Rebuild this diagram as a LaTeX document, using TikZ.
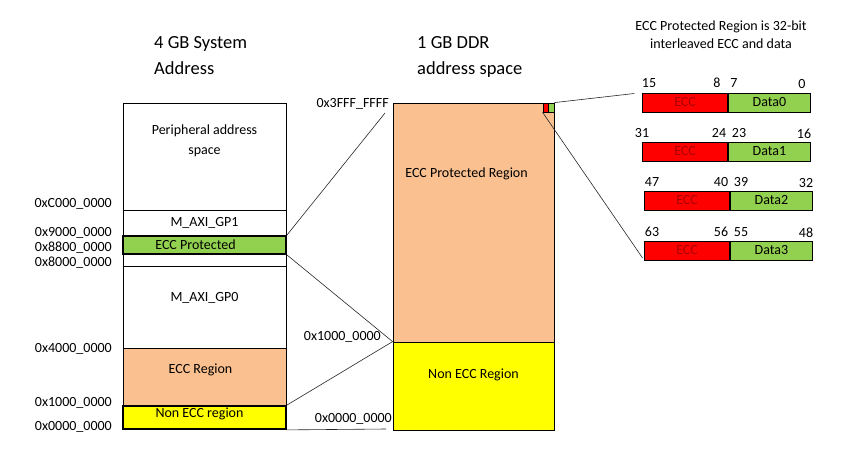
\documentclass[tikz,border=0pt]{standalone}
\usepackage{fontspec}
\setmainfont{Carlito}
\usepackage{tikz}
\usepackage{xcolor}
\definecolor{ecccolor}{RGB}{250,192,143}
\definecolor{datacolor}{RGB}{146,208,80}
\definecolor{noncolor}{RGB}{255,255,0}
\definecolor{paritycolor}{RGB}{255,0,0}
\definecolor{paritytext}{RGB}{170,0,0}
\tikzset{
    basebox/.style={rectangle,
        draw=black,
        line width=0.8pt,
        inner sep=0pt,
        font=\fontsize{14}{17}\selectfont},
    sysbox/.style={basebox, minimum width=163pt},
    ddrbox/.style={basebox, minimum width=161pt},
    heavybox/.style={line width=1.8pt},
    eccbit/.style={basebox, minimum width=85pt, minimum height=19pt, fill=paritycolor, text=paritytext},
    databit/.style={basebox, minimum width=82pt, minimum height=19pt, fill=datacolor},
    addr/.style={font=\fontsize{14}{17}\selectfont, inner sep=0pt},
    bitnum/.style={addr, anchor=base},
    heading/.style={font=\fontsize{18.5}{26}\selectfont, align=left, anchor=north west, inner sep=0pt},
    link/.style={line width=0.6pt, black!85}
}

\begin{document}
\begin{tikzpicture}[x=1pt, y=-1pt]
\useasboundingbox (0,0) rectangle (853,468);

% Headings
\node[heading] (sysHead) at (154,36) {4 GB System\\Address};
\node[heading] (ddrHead) at (417,36) {1 GB DDR\\address space};
\node[addr, align=center] (bitHead) at (721,35) {ECC Protected Region is 32-bit\\[1pt]interleaved ECC and data};

% 4 GB system address map
\node[sysbox, minimum height=107pt,
    label={[addr, align=center, yshift=16pt]center:Peripheral address\\[3pt]space}] (periph) at (204.5,156.5) {};
\node[sysbox, minimum height=26pt] (gp1) at (204.5,223) {M\_AXI\_GP1};
\node[sysbox, minimum height=18pt, fill=datacolor, heavybox,
    label={[addr, xshift=-9pt]center:ECC Protected}] (eccp) at (204.5,245) {};
\node[sysbox, minimum height=12pt] (gap) at (204.5,260) {};
\node[sysbox, minimum height=82pt,
    label={[addr, yshift=9pt]center:M\_AXI\_GP0}] (gp0) at (204.5,307) {};
\node[sysbox, minimum height=58pt, fill=ecccolor,
    label={[addr, xshift=-4pt, yshift=7pt]center:ECC Region}] (eccreg) at (204.5,377) {};
\node[sysbox, minimum height=23pt, fill=noncolor, heavybox,
    label={[addr, xshift=-5pt, yshift=4pt]center:Non ECC region}] (nonecc) at (204.5,417.5) {};

% System addresses
\node[addr, anchor=east] (aC) at (112,204) {0xC000\_0000};
\node[addr, anchor=east] (a9) at (112,233) {0x9000\_0000};
\node[addr, anchor=east] (a88) at (112,248) {0x8800\_0000};
\node[addr, anchor=east] (a8) at (112,263) {0x8000\_0000};
\node[addr, anchor=east] (a4) at (112,349) {0x4000\_0000};
\node[addr, anchor=east] (a1) at (112,403) {0x1000\_0000};
\node[addr, anchor=east] (a0) at (112,427) {0x0000\_0000};

% 1 GB DDR
\node[ddrbox, minimum height=239pt, fill=ecccolor,
    label={[addr, xshift=-7pt, yshift=49pt]center:ECC Protected Region}] (ddrecc) at (473.5,222.5) {};
\node[ddrbox, minimum height=88pt, fill=noncolor,
    label={[addr, yshift=11pt]center:Non ECC Region}] (ddrnon) at (473.5,386) {};
\node[basebox, minimum width=5pt, minimum height=9pt, fill=paritycolor] (sqe) at (545.5,107.5) {};
\node[basebox, minimum width=6pt, minimum height=9pt, fill=datacolor] (sqd) at (551,107.5) {};

% DDR addresses
\node[addr, anchor=east] (dTop) at (389,104) {0x3FFF\_FFFF};
\node[addr, anchor=east] (dMid) at (381,337) {0x1000\_0000};
\node[addr, anchor=east] (dLow) at (392,419) {0x0000\_0000};

% Interleaved ECC and data
\node[eccbit, anchor=east] (e0) at (728,102.5) {ECC};
\node[databit, anchor=west] (d0) at (e0.east) {Data0};
\node[eccbit, anchor=east] (e1) at (728,151.5) {ECC};
\node[databit, anchor=west] (d1) at (e1.east) {Data1};
\node[eccbit, anchor=east] (e2) at (730,200.5) {ECC};
\node[databit, anchor=west] (d2) at (e2.east) {Data2};
\node[eccbit, anchor=east] (e3) at (730,250.5) {ECC};
\node[databit, anchor=west] (d3) at (e3.east) {Data3};

% Bit numbers
\node[bitnum] (b15) at (649,88) {15};
\node[bitnum] (b8) at (717,88) {8};
\node[bitnum] (b7) at (734,88) {7};
\node[bitnum] (b0) at (802,89) {0};
\node[bitnum] (b31) at (642,137) {31};
\node[bitnum] (b24) at (719,137) {24};
\node[bitnum] (b23) at (739,137) {23};
\node[bitnum] (b16) at (804,138) {16};
\node[bitnum] (b47) at (652,186) {47};
\node[bitnum] (b40) at (721,186) {40};
\node[bitnum] (b39) at (741,186) {39};
\node[bitnum] (b32) at (806,187) {32};
\node[bitnum] (b63) at (652,236) {63};
\node[bitnum] (b56) at (721,236) {56};
\node[bitnum] (b55) at (741,236) {55};
\node[bitnum] (b48) at (806,237) {48};

% Connectors
\coordinate (topEnd) at (385,113);
\coordinate (lowEnd) at (386,429);
\draw[link] (eccp.north east) -- (topEnd);
\draw[link] (eccp.south east) -- (ddrnon.north west);
\draw[link] (nonecc.north east) -- (ddrnon.north west);
\draw[link] (nonecc.south east) -- (lowEnd);
\draw[link, shorten >=8pt] (sqd.north east) -- (e0.north west);
\draw[link, shorten >=3pt] (sqe.south west) -- (e3.south west);

\end{tikzpicture}
\end{document}
